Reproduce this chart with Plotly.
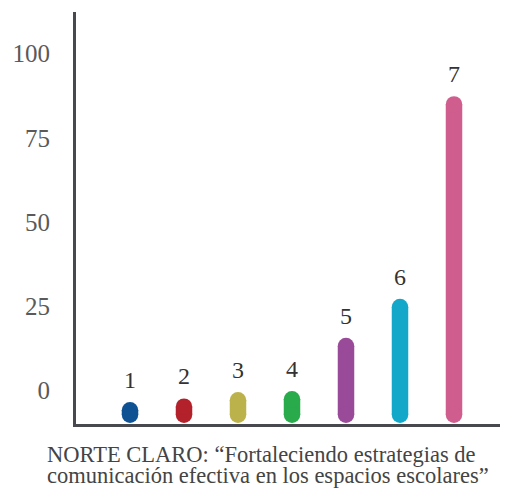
import plotly.graph_objects as go

categories = ["1", "2", "3", "4", "5", "6", "7"]
values = [-3.5, -2.4, -0.5, -0.2, 15.6, 27.2, 87.4]
base_value = -9.7
colors = ["#0f5294", "#b3212b", "#bcb24c", "#29aa4b", "#994a98", "#13a8c9", "#cf5d8d"]
y_ticks = [0, 25, 50, 75, 100]

Y_MIN, Y_MAX = -10, 112.4
PLOT_H = 412
BAR_W = 16.5
r_units = (BAR_W / 2) / (PLOT_H / (Y_MAX - Y_MIN))

fig = go.Figure()
for i, (cat, v, c) in enumerate(zip(categories, values, colors)):
    y0 = base_value + r_units
    y1 = max(v - r_units, y0)
    fig.add_trace(go.Scatter(
        x=[i, i], y=[y0, y1], mode="lines+markers",
        line=dict(color=c, width=BAR_W),
        marker=dict(color=c, size=BAR_W, line=dict(width=0)),
        hoverinfo="skip", showlegend=False))
    fig.add_annotation(x=i, y=v, text=cat, showarrow=False, yanchor="middle",
                       yshift=22, font=dict(family="Liberation Serif", size=24, color="#333333"))

title_font = dict(family="Liberation Serif", size=22.5, color="#444444")
fig.add_annotation(xref="paper", yref="paper", x=-0.072, y=-0.073, xanchor="left", yanchor="middle",
                   text="NORTE CLARO: “Fortaleciendo estrategias de", showarrow=False, align="left",
                   font=title_font)
fig.add_annotation(xref="paper", yref="paper", x=-0.072, y=-0.124, xanchor="left", yanchor="middle",
                   text="comunicación efectiva en los espacios escolares”", showarrow=False, align="left",
                   font=title_font)

fig.update_layout(
    width=500, height=480,
    margin=dict(l=68, r=0, t=4, b=64),
    plot_bgcolor="white", paper_bgcolor="white",
    xaxis=dict(range=[-1, 7], showgrid=False, zeroline=False, showticklabels=False,
               showline=True, linecolor="#48484f", linewidth=2.5, ticks=""),
    yaxis=dict(range=[Y_MIN, Y_MAX], tickvals=y_ticks, showgrid=False, zeroline=False,
               showline=True, linecolor="#48484f", linewidth=3, ticks="",
               ticklabelstandoff=18, automargin=False,
               tickfont=dict(family="Liberation Serif", size=25, color="#5a5a5a")),
)

fig.write_html("out.html")
